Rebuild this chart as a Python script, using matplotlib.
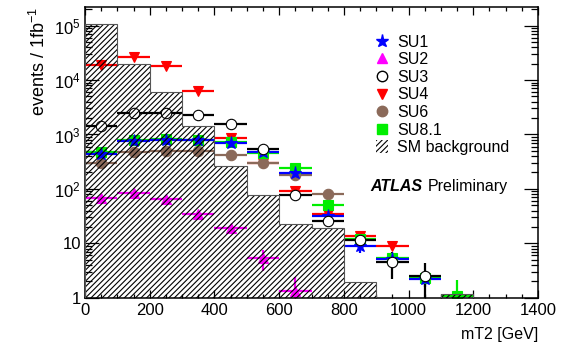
import numpy as np
import matplotlib
matplotlib.use("Agg")
import matplotlib.pyplot as plt
from matplotlib.lines import Line2D
from matplotlib.patches import Patch
from matplotlib.ticker import FixedLocator, MultipleLocator, LogLocator, NullFormatter

plt.rcParams['font.family'] = ['Liberation Sans', 'DejaVu Sans']
plt.rcParams['mathtext.fontset'] = 'custom'
plt.rcParams['mathtext.rm'] = 'Liberation Sans'
plt.rcParams['mathtext.it'] = 'Liberation Sans:italic'
plt.rcParams['hatch.linewidth'] = 0.8

# ---- data ----
bg_edges = [0, 100, 200, 300, 400, 500, 600, 700, 800, 900, 1000, 1100, 1200]
bg_values = [1.07e5, 1.95e4, 6.0e3, 1.43e3, 267, 77, 22.6, 18.8, 1.97, 0, 0, 1.15]

su1_x = [50, 150, 250, 350, 450, 550, 650, 750, 850, 950, 1050]
su1_y = [437, 760, 790, 790, 690, 480, 196, 31.8, 9.0, 5.1, 2.2]
su1_e = [20, 30, 30, 30, 30, 25, 12, 4, 2.5, 1.2, 0.6]

su2_x = [50, 150, 250, 350, 450, 550, 650]
su2_y = [67, 83, 64, 34, 18.9, 5.3, 1.35]
su2_e = [6, 7, 6, 4, 3, 2.2, 1.1]

su3_x = [50, 150, 250, 350, 450, 550, 650, 750, 850, 950, 1050]
su3_y = [1430, 2450, 2450, 2300, 1540, 550, 76, 25.7, 11.5, 4.5, 2.5]
su3_e = [40, 50, 50, 50, 40, 25, 8, 4, 2.5, 2.3, 1.8]

su4_x = [50, 150, 250, 350, 450, 550, 650, 750, 850, 950]
su4_y = [19000, 27000, 18400, 6400, 850, 295, 93, 34.6, 13.8, 8.9]
su4_e = [1500, 2000, 1500, 700, 100, 40, 12, 6, 3, 1.5]

su6_x = [50, 150, 250, 350, 450, 550, 650, 750]
su6_y = [295, 480, 505, 500, 415, 295, 177, 80]
su6_e = [10, 15, 15, 15, 15, 12, 8, 5]

su81_x = [50, 150, 250, 350, 450, 550, 650, 750, 850, 950, 1050, 1150]
su81_y = [470, 780, 810, 800, 720, 460, 245, 50, 12, 5.3, 2.3, 1.09]
su81_e = [20, 30, 30, 30, 30, 25, 15, 6, 2, 1.2, 0.6, 1.0]

bin_half_width = 50

fig = plt.figure(figsize=(5.67, 3.51), dpi=100)
ax = fig.add_axes([85/567, 1-297.7/351, 453/567, 290.7/351])
ax.set_yscale('log')

series = [
    ("SU4", su4_x, su4_y, su4_e, 'v', '#ff0000', '#ff0000', 7.5),
    ("SU6", su6_x, su6_y, su6_e, 'o', '#8b6a5a', '#8b6a5a', 7.5),
    ("SU8.1", su81_x, su81_y, su81_e, 's', '#00ee00', '#00ee00', 6.5),
    ("SU1", su1_x, su1_y, su1_e, '*', '#0000ff', '#0000ff', 9.5),
    ("SU2", su2_x, su2_y, su2_e, '^', '#ff00ff', '#ff00ff', 7.5),
    ("SU3", su3_x, su3_y, su3_e, 'o', '#000000', 'white', 7.5),
]
for name, x, y, e, m, c, fc, ms in series:
    ax.errorbar(x, y, xerr=bin_half_width, yerr=e, fmt=m, color=c, mfc=fc, mec=c if fc != 'white' else 'black',
                ms=ms, elinewidth=1.6, capsize=0, mew=0.8)

bg_plot = np.where(np.array(bg_values) > 0, bg_values, 0.1)
ax.stairs(bg_plot, bg_edges, baseline=0.1, fill=True, facecolor='none', edgecolor='black',
          hatch='//////', linewidth=0.0, zorder=5)
ax.stairs(bg_plot, bg_edges, baseline=0.1, fill=False, edgecolor='#555555', linewidth=0.8, zorder=6)

ax.set_xlim(0, 1400)
ax.set_ylim(1, 2.2e5)

ax.xaxis.set_major_locator(MultipleLocator(200))
ax.xaxis.set_minor_locator(MultipleLocator(50))
ax.yaxis.set_major_locator(FixedLocator([1, 10, 100, 1e3, 1e4, 1e5]))
ax.yaxis.set_minor_locator(LogLocator(base=10, subs=np.arange(2, 10)))
ax.yaxis.set_minor_formatter(NullFormatter())
ax.set_yticklabels(['1', '10', r'$\mathregular{10^{2}}$', r'$\mathregular{10^{3}}$',
                    r'$\mathregular{10^{4}}$', r'$\mathregular{10^{5}}$'])
ax.tick_params(which='both', direction='in', top=True, right=True, labelsize=12, width=0.9)
ax.tick_params(axis='x', which='major', length=6, pad=4)
ax.tick_params(axis='x', which='minor', length=3)
ax.tick_params(axis='y', which='major', length=10, pad=3)
ax.tick_params(axis='y', which='minor', length=5)
for s in ax.spines.values():
    s.set_linewidth(1.1)

ax.set_ylabel(r'events / 1fb$^{\mathregular{-1}}$', fontsize=13, loc='top', labelpad=4)
ax.set_xlabel('mT2 [GeV]', fontsize=11.5, loc='right', labelpad=6)

handles = [
    Line2D([], [], ls='none', marker='*', color='#0000ff', ms=9.5),
    Line2D([], [], ls='none', marker='^', color='#ff00ff', ms=7.5),
    Line2D([], [], ls='none', marker='o', mfc='white', mec='black', ms=7.5),
    Line2D([], [], ls='none', marker='v', color='#ff0000', ms=7.5),
    Line2D([], [], ls='none', marker='o', color='#8b6a5a', ms=7.5),
    Line2D([], [], ls='none', marker='s', color='#00ee00', ms=6.5),
    Patch(facecolor='none', edgecolor='black', hatch='//////', linewidth=0),
]
labels = ['SU1', 'SU2', 'SU3', 'SU4', 'SU6', 'SU8.1', 'SM background']
ax.legend(handles, labels, loc='upper left', bbox_to_anchor=(0.617, 0.943), frameon=False,
          fontsize=11.5, handlelength=0.8, handleheight=0.8, handletextpad=0.55, labelspacing=0.16,
          borderpad=0.2)

ax.text(0.629, 0.381, 'ATLAS', transform=ax.transAxes, fontsize=11.5, fontweight='bold',
        fontstyle='italic', va='center', ha='left')
ax.text(0.757, 0.381, 'Preliminary', transform=ax.transAxes, fontsize=11.5, va='center', ha='left')

fig.savefig('out.png', dpi=100)
